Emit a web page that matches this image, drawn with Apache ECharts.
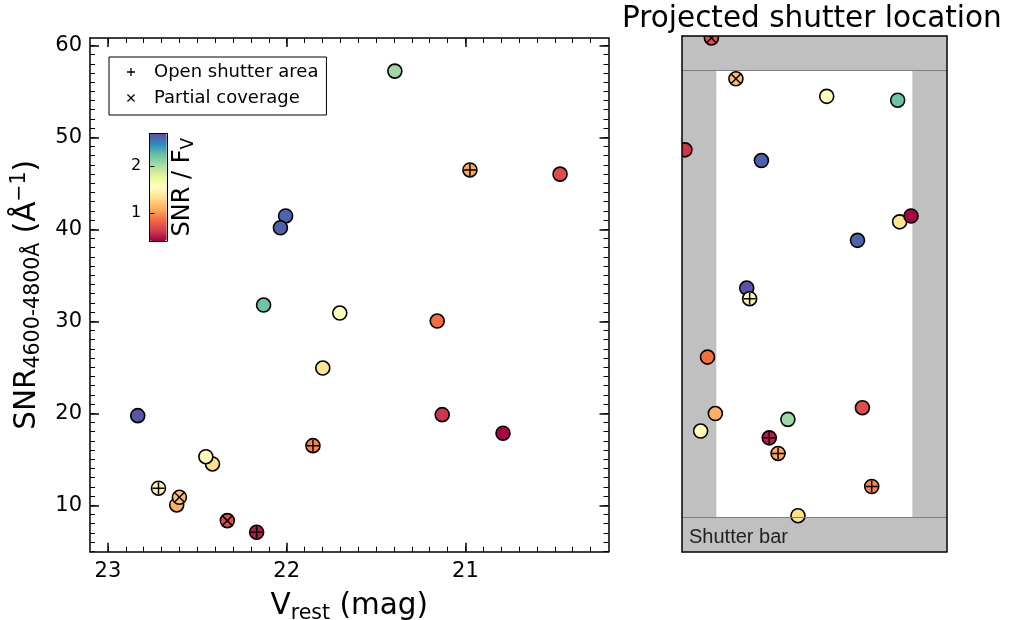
<!DOCTYPE html>
<html><head><meta charset="utf-8">
<script src="https://cdn.jsdelivr.net/npm/echarts@6/dist/echarts.min.js"></script>
<style>html,body{margin:0;padding:0;background:#fff}#c{width:1010px;height:620px}</style>
</head><body><div id="c"></div>
<script>
// ---------------- data ----------------
const vRest     = [22.833, 22.006, 22.035, 22.129, 21.395, 21.703, 22.415, 22.452, 22.717, 21.798, 22.615, 22.600, 20.975, 21.853, 21.158, 22.332, 20.471, 21.130, 22.168, 20.790];
const snr       = [19.74, 41.45, 40.17, 31.77, 57.20, 30.90, 14.49, 15.28, 11.85, 24.92, 10.03, 10.87, 46.45, 16.48, 30.03, 8.33, 46.00, 19.85, 7.07, 17.83];
const snrOverFv = [2.68, 2.62, 2.63, 2.22, 2.05, 1.55, 1.33, 1.52, 1.48, 1.36, 1.10, 1.16, 1.07, 0.95, 0.86, 0.72, 0.70, 0.60, 0.50, 0.42];
const shutterX  = [-0.069, 0.044, -0.054, 0.085, -0.027, 0.0126, -0.0167, -0.116, -0.066, 0.087, -0.101, -0.080, -0.037, 0.0585, -0.109, -0.105, 0.049, -0.132, -0.046, 0.0986];
const shutterY  = [0.006, 0.055, 0.137, 0.199, -0.129, 0.203, -0.228, -0.141, -0.005, 0.074, -0.123, 0.221, -0.164, -0.198, -0.065, 0.263, -0.117, 0.148, -0.148, 0.080];
const coverage  = ['o','o','o','o','o','o','o','o','+','o','o','x','+','+','o','x','o','o','+','o'];

const xMajorTicks = [21, 22, 23];
const yMajorTicks = [10, 20, 30, 40, 50, 60];
const cbarTicks   = [1, 2];
const xRange = [20.2, 23.1];
const yRange = [4.95, 60.8];
const cbarRange = [0.4, 2.7];
const shutterPitch = [0.27, 0.53];   // arcsec
const shutterOpen  = [0.20, 0.46];   // arcsec
const spectral = ['#9e0142','#d53e4f','#f46d43','#fdae61','#fee08b','#ffffbf','#e6f598','#abdda4','#66c2a5','#3288bd','#5e4fa2'];

const xMinorTicks = []; for (let v = 203; v <= 230; v++) xMinorTicks.push(v / 10);
const yMinorTicks = []; for (let v = 5; v <= 60; v++) yMinorTicks.push(v);

// ---------------- helpers ----------------
const FONT = 'DejaVu Sans';
const black = '#000';
function baseAxis(extra) {
  return Object.assign({
    type: 'value', splitLine: {show: false}, axisLine: {show: false},
    axisTick: {show: false}, axisLabel: {show: false}, z: 10, silent: true
  }, extra);
}
const lineOn = {show: true, onZero: false, lineStyle: {color: black, width: 1.5}};
function ticks(values, len, w) { return {show: true, inside: true, length: len, customValues: values, lineStyle: {color: black, width: w}}; }
function labels(values, size, margin) { return {show: true, customValues: values, fontSize: size, fontFamily: FONT, color: black, margin: margin}; }

const R = 7;
function circleRender(params, api) {
  const p = api.coord([api.value(0), api.value(1)]);
  return {type: 'circle', shape: {cx: p[0], cy: p[1], r: R},
          style: {fill: api.visual('color'), stroke: black, lineWidth: 1.6}};
}
function plusRender(params, api) {
  const p = api.coord([api.value(0), api.value(1)]);
  const d = 6;
  return {type: 'group', children: [
    {type: 'line', shape: {x1: p[0] - d, y1: p[1], x2: p[0] + d, y2: p[1]}, style: {stroke: black, lineWidth: 1.5}},
    {type: 'line', shape: {x1: p[0], y1: p[1] - d, x2: p[0], y2: p[1] + d}, style: {stroke: black, lineWidth: 1.5}}
  ]};
}
function crossRender(params, api) {
  const p = api.coord([api.value(0), api.value(1)]);
  const d = 4.5;
  return {type: 'group', children: [
    {type: 'line', shape: {x1: p[0] - d, y1: p[1] - d, x2: p[0] + d, y2: p[1] + d}, style: {stroke: black, lineWidth: 1.5}},
    {type: 'line', shape: {x1: p[0] - d, y1: p[1] + d, x2: p[0] + d, y2: p[1] - d}, style: {stroke: black, lineWidth: 1.5}}
  ]};
}

const leftData  = vRest.map((v, i) => [v, snr[i], snrOverFv[i]]);
const rightData = shutterX.map((v, i) => [v, shutterY[i], snrOverFv[i]]);
const pick = (arr, kind) => arr.filter((d, i) => coverage[i] === kind);

const hx = shutterPitch[0] / 2, hy = shutterPitch[1] / 2, ox = shutterOpen[0] / 2, oy = shutterOpen[1] / 2;

const PLUS_ICON  = 'path://M4.2,0 H5.8 V4.2 H10 V5.8 H5.8 V10 H4.2 V5.8 H0 V4.2 H4.2 Z';
const CROSS_ICON = 'path://M0,1.1 L1.1,0 L5,3.9 L8.9,0 L10,1.1 L6.1,5 L10,8.9 L8.9,10 L5,6.1 L1.1,10 L0,8.9 L3.9,5 Z';

const option = {
  animation: false,
  backgroundColor: '#fff',
  title: {
    text: 'Projected shutter location', left: 622, top: 4, padding: 0,
    textStyle: {fontSize: 29.5, fontWeight: 'normal', fontFamily: FONT, color: black}
  },
  legend: {
    left: 109, top: 57, orient: 'vertical', itemWidth: 8, itemHeight: 8, itemGap: 6,
    padding: [5, 8, 7, 18], borderColor: black, borderWidth: 1, borderRadius: 0,
    backgroundColor: '#fff', selectedMode: false,
    textStyle: {fontSize: 18, fontFamily: FONT, color: black, lineHeight: 20, padding: [0, 0, 0, 14]},
    data: [
      {name: 'Open shutter area', icon: PLUS_ICON, itemStyle: {color: black}},
      {name: 'Partial coverage', icon: CROSS_ICON, itemStyle: {color: black}}
    ]
  },
  visualMap: {
    type: 'continuous', min: cbarRange[0], max: cbarRange[1], dimension: 2, seriesIndex: [0, 3],
    calculable: false, show: true, orient: 'vertical', left: 149.3, top: 133.3,
    itemWidth: 17.5, itemHeight: 107.7, padding: 0, text: null, hoverLink: false, z: 1,
    inRange: {color: spectral}
  },
  grid: [
    {left: 90, top: 38, width: 518.5, height: 513.7, outerBoundsMode: 'none', containLabel: false},
    {left: 682, top: 36, width: 264.7, height: 515.7, outerBoundsMode: 'none', containLabel: false},
    {left: 149.3, top: 133.3, width: 17.5, height: 107.7, outerBoundsMode: 'none', containLabel: false}
  ],
  xAxis: [
    baseAxis({gridIndex: 0, position: 'bottom', min: xRange[0], max: xRange[1], inverse: true,
      axisLine: lineOn, axisTick: ticks(xMajorTicks, 9, 1.5), axisLabel: labels(xMajorTicks, 21, 9),
      name: '{m|V}{s|rest}{m| (mag)}', nameLocation: 'middle', nameGap: 37,
      nameTextStyle: {rich: {
        m: {fontSize: 29.5, fontFamily: FONT, color: black, lineHeight: 35},
        s: {fontSize: 20.5, fontFamily: FONT, color: black, lineHeight: 21, verticalAlign: 'bottom'}
      }}}),
    baseAxis({gridIndex: 0, position: 'bottom', min: xRange[0], max: xRange[1], inverse: true,
      axisTick: ticks(xMinorTicks, 5, 1)}),
    baseAxis({gridIndex: 0, position: 'top', min: xRange[0], max: xRange[1], inverse: true,
      axisLine: lineOn, axisTick: ticks(xMajorTicks, 9, 1.5)}),
    baseAxis({gridIndex: 0, position: 'top', min: xRange[0], max: xRange[1], inverse: true,
      axisTick: ticks(xMinorTicks, 5, 1)}),
    baseAxis({gridIndex: 1, position: 'bottom', min: -hx, max: hx, axisLine: lineOn}),
    baseAxis({gridIndex: 1, position: 'top', min: -hx, max: hx, axisLine: lineOn}),
    baseAxis({gridIndex: 2, position: 'bottom', min: 0, max: 1, axisLine: {show: true, onZero: false, lineStyle: {color: black, width: 1}}}),
    baseAxis({gridIndex: 2, position: 'top', min: 0, max: 1, axisLine: {show: true, onZero: false, lineStyle: {color: black, width: 1}}})
  ],
  yAxis: [
    baseAxis({gridIndex: 0, position: 'left', min: yRange[0], max: yRange[1],
      axisLine: lineOn, axisTick: ticks(yMajorTicks, 9, 1.5), axisLabel: labels(yMajorTicks, 21, 8),
      name: '{m|SNR}{s|4600-4800Å}{m| (Å}{p|−1}{m|)}', nameLocation: 'middle', nameGap: 44, nameRotate: 90,
      nameTextStyle: {rich: {
        m: {fontSize: 29.5, fontFamily: FONT, color: black, lineHeight: 35},
        s: {fontSize: 20.5, fontFamily: FONT, color: black, lineHeight: 21, verticalAlign: 'bottom'},
        p: {fontSize: 20.5, fontFamily: FONT, color: black, lineHeight: 21, verticalAlign: 'top'}
      }}}),
    baseAxis({gridIndex: 0, position: 'left', min: yRange[0], max: yRange[1], axisTick: ticks(yMinorTicks, 5, 1)}),
    baseAxis({gridIndex: 0, position: 'right', min: yRange[0], max: yRange[1],
      axisLine: lineOn, axisTick: ticks(yMajorTicks, 9, 1.5)}),
    baseAxis({gridIndex: 0, position: 'right', min: yRange[0], max: yRange[1], axisTick: ticks(yMinorTicks, 5, 1)}),
    baseAxis({gridIndex: 1, position: 'left', min: -hy, max: hy, axisLine: lineOn}),
    baseAxis({gridIndex: 1, position: 'right', min: -hy, max: hy, axisLine: lineOn}),
    baseAxis({gridIndex: 2, position: 'left', min: cbarRange[0], max: cbarRange[1],
      axisLine: {show: true, onZero: false, lineStyle: {color: black, width: 1}},
      axisTick: ticks(cbarTicks, 5, 1), axisLabel: labels(cbarTicks, 16, 8)}),
    baseAxis({gridIndex: 2, position: 'right', min: cbarRange[0], max: cbarRange[1],
      axisLine: {show: true, onZero: false, lineStyle: {color: black, width: 1}},
      name: '{m|SNR / F}{s|V}', nameLocation: 'middle', nameGap: 2, nameRotate: 90,
      nameTextStyle: {rich: {
        m: {fontSize: 24, fontFamily: FONT, color: black, lineHeight: 28},
        s: {fontSize: 17, fontFamily: FONT, color: black, lineHeight: 18, verticalAlign: 'bottom'}
      }}})
  ],
  series: [
    {type: 'custom', name: 'points', xAxisIndex: 0, yAxisIndex: 0, z: 3, renderItem: circleRender, data: leftData, clip: true, silent: true},
    {type: 'custom', name: 'Open shutter area', xAxisIndex: 0, yAxisIndex: 0, z: 4, renderItem: plusRender, data: pick(leftData, '+'), itemStyle: {color: black}, clip: true, silent: true},
    {type: 'custom', name: 'Partial coverage', xAxisIndex: 0, yAxisIndex: 0, z: 4, renderItem: crossRender, data: pick(leftData, 'x'), itemStyle: {color: black}, clip: true, silent: true},
    {type: 'custom', name: 'shutterPoints', xAxisIndex: 4, yAxisIndex: 4, z: 3, renderItem: circleRender, data: rightData, clip: true, silent: true},
    {type: 'custom', name: 'Open shutter area', xAxisIndex: 4, yAxisIndex: 4, z: 4, renderItem: plusRender, data: pick(rightData, '+'), itemStyle: {color: black}, clip: true, silent: true},
    {type: 'custom', name: 'Partial coverage', xAxisIndex: 4, yAxisIndex: 4, z: 4, renderItem: crossRender, data: pick(rightData, 'x'), itemStyle: {color: black}, clip: true, silent: true},
    {type: 'scatter', name: 'shutter', xAxisIndex: 4, yAxisIndex: 4, z: 1, data: [], silent: true,
      markArea: {
        silent: true, itemStyle: {color: '#c0c0c0', borderWidth: 0}, label: {show: false},
        data: [
          [{coord: [-hx, oy]}, {coord: [hx, hy]}],
          [{coord: [-hx, -hy], label: {show: true, position: 'insideLeft', distance: 7, offset: [0, 3], formatter: 'Shutter bar',
             fontFamily: 'Liberation Sans', fontSize: 20, color: '#222'}}, {coord: [hx, -oy]}],
          [{coord: [-hx, -oy]}, {coord: [-ox, oy]}],
          [{coord: [ox, -oy]}, {coord: [hx, oy]}]
        ]
      },
      markLine: {
        silent: true, symbol: ['none', 'none'], label: {show: false},
        lineStyle: {color: '#7f7f7f', width: 1, type: 'solid'},
        data: [{yAxis: oy}, {yAxis: -oy}]
      }
    }
  ]
};

const chart = echarts.init(document.getElementById('c'), null, {renderer: 'canvas'});
chart.setOption(option);
</script>
</body></html>
